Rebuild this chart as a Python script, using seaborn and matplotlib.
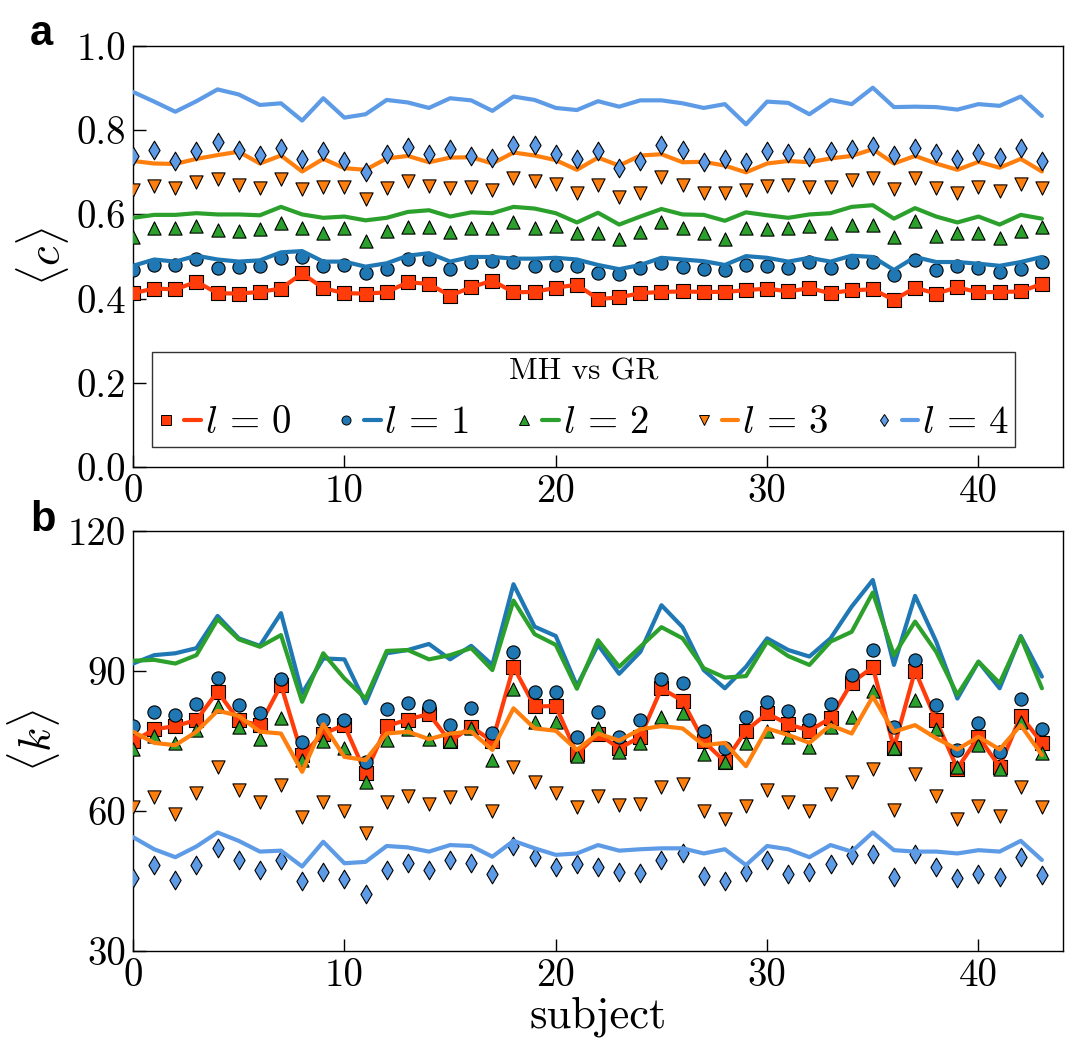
import numpy as np
import pandas as pd
import matplotlib
matplotlib.use("Agg")
import matplotlib.pyplot as plt
import seaborn as sns
from matplotlib.lines import Line2D
from matplotlib.legend_handler import HandlerTuple

# ---------------- data ----------------
subjects = list(range(44))
levels = [0, 1, 2, 3, 4]
level_labels = [r"$l\,=\,0$", r"$l\,=\,1$", r"$l\,=\,2$", r"$l\,=\,3$", r"$l\,=\,4$"]
colors = ["#ff3c0a", "#1f77b4", "#2ca02c", "#ff7f0e", "#5e9be6"]
markers = ["s", "o", "^", "v", "d"]

# panel a: <c>
a_l0 = [0.413,0.424,0.422,0.440,0.413,0.412,0.416,0.424,0.460,0.425,0.413,0.412,0.415,0.439,0.435,
        0.407,0.427,0.443,0.415,0.416,0.426,0.433,0.399,0.403,0.413,0.416,0.417,0.416,0.416,0.420,
        0.424,0.417,0.425,0.413,0.420,0.422,0.397,0.426,0.412,0.427,0.415,0.416,0.417,0.435]
a_l1_mk = [0.468,0.481,0.480,0.493,0.473,0.476,0.477,0.497,0.499,0.477,0.481,0.460,0.470,0.493,0.495,
           0.470,0.486,0.489,0.486,0.478,0.480,0.478,0.462,0.458,0.472,0.484,0.476,0.470,0.467,0.481,
           0.478,0.473,0.488,0.472,0.488,0.486,0.456,0.491,0.468,0.477,0.473,0.464,0.470,0.488]
a_l1_ln = [0.478,0.493,0.488,0.502,0.493,0.488,0.491,0.510,0.513,0.488,0.488,0.476,0.484,0.502,0.508,
           0.488,0.499,0.499,0.495,0.495,0.497,0.493,0.480,0.470,0.480,0.497,0.493,0.489,0.480,0.501,
           0.497,0.488,0.497,0.488,0.502,0.499,0.468,0.499,0.487,0.487,0.483,0.478,0.487,0.499]
a_l2_mk = [0.547,0.567,0.567,0.573,0.563,0.560,0.565,0.579,0.567,0.557,0.567,0.537,0.561,0.570,0.570,
           0.559,0.568,0.567,0.581,0.569,0.573,0.555,0.557,0.542,0.559,0.581,0.568,0.557,0.542,0.568,
           0.565,0.567,0.573,0.557,0.576,0.576,0.547,0.584,0.549,0.555,0.557,0.545,0.560,0.570]
a_l2_ln = [0.592,0.599,0.599,0.603,0.600,0.600,0.598,0.618,0.600,0.592,0.595,0.586,0.592,0.606,0.610,
           0.595,0.605,0.603,0.618,0.614,0.603,0.581,0.604,0.576,0.595,0.613,0.600,0.599,0.585,0.605,
           0.598,0.592,0.600,0.603,0.618,0.622,0.590,0.615,0.595,0.581,0.595,0.576,0.599,0.590]
a_l3_mk = [0.658,0.668,0.664,0.678,0.684,0.670,0.664,0.684,0.660,0.666,0.666,0.636,0.664,0.679,0.668,
           0.664,0.666,0.658,0.686,0.679,0.672,0.650,0.670,0.642,0.652,0.690,0.670,0.652,0.650,0.658,
           0.668,0.670,0.666,0.666,0.682,0.687,0.660,0.686,0.664,0.652,0.666,0.656,0.672,0.664]
a_l3_ln = [0.727,0.721,0.720,0.732,0.741,0.749,0.721,0.740,0.702,0.732,0.710,0.706,0.733,0.739,0.724,
           0.735,0.736,0.721,0.747,0.740,0.729,0.706,0.735,0.716,0.740,0.743,0.724,0.725,0.716,0.700,
           0.721,0.727,0.724,0.733,0.739,0.755,0.721,0.739,0.721,0.706,0.725,0.711,0.732,0.702]
a_l4_mk = [0.739,0.753,0.727,0.751,0.773,0.752,0.741,0.759,0.731,0.751,0.728,0.700,0.743,0.761,0.744,
           0.755,0.740,0.733,0.765,0.765,0.743,0.732,0.751,0.711,0.727,0.765,0.752,0.725,0.732,0.724,
           0.751,0.745,0.737,0.751,0.755,0.763,0.741,0.759,0.747,0.732,0.745,0.737,0.757,0.727]
a_l4_ln = [0.891,0.868,0.844,0.869,0.897,0.885,0.860,0.864,0.823,0.876,0.830,0.838,0.872,0.866,0.853,
           0.876,0.871,0.846,0.880,0.872,0.853,0.848,0.869,0.856,0.871,0.871,0.864,0.853,0.862,0.814,
           0.868,0.865,0.838,0.872,0.862,0.901,0.855,0.856,0.855,0.849,0.862,0.858,0.880,0.834]

# panel b: <k>
b_l0 = [74.9,77.5,78.2,79.5,85.6,79.4,78.4,87.0,72.0,76.6,78.4,68.1,78.2,79.6,80.8,
        74.9,78.1,74.9,90.9,82.4,82.5,72.2,76.6,73.4,75.9,86.3,83.6,74.9,70.6,77.2,
        80.9,78.6,77.2,79.9,87.5,90.8,73.6,90.1,79.4,69.1,75.9,69.5,80.4,74.6]
b_l1_mk = [78.2,81.3,80.6,82.9,88.6,82.7,80.9,88.2,74.8,79.5,79.6,70.4,81.8,83.1,82.5,
           78.4,82.0,76.8,94.1,85.6,85.6,75.8,81.3,75.9,79.4,88.2,87.4,77.2,73.4,80.1,
           83.4,81.5,79.6,82.9,89.1,94.4,77.9,92.4,82.7,73.1,78.8,72.7,83.9,77.5]
b_l1_ln = [91.6,93.4,93.8,94.9,101.8,97.0,95.4,102.4,85.2,92.7,92.5,83.1,93.8,94.5,95.8,
           92.5,95.4,91.3,108.6,99.5,97.5,86.8,95.6,89.4,94.1,104.1,99.4,90.2,86.3,90.9,
           97.0,94.5,93.1,97.0,103.8,109.5,91.3,106.1,96.3,84.1,92.0,86.3,97.5,88.8]
b_l2_mk = [73.2,76.1,74.5,77.4,82.6,78.1,75.4,79.9,70.9,74.9,73.6,66.3,75.2,77.5,75.4,
           74.9,77.7,70.9,86.1,79.1,79.1,71.8,77.7,72.7,74.5,80.1,81.1,72.2,70.6,74.5,
           77.2,75.8,73.8,78.1,80.2,85.8,73.6,83.8,77.5,69.5,74.1,69.1,79.1,72.4]
b_l2_ln = [92.2,92.4,91.6,93.4,101.1,96.8,95.2,97.7,83.4,93.8,88.4,84.1,94.3,94.5,92.5,
           93.4,94.9,90.2,105.1,97.9,95.6,86.2,96.6,90.9,95.2,99.4,97.0,90.6,88.6,88.9,
           96.3,93.2,91.3,96.3,98.4,106.8,93.4,100.6,94.1,84.9,92.0,87.4,97.3,86.3]
b_l3_mk = [60.8,63.1,59.4,63.9,69.4,64.4,62.0,65.6,58.8,62.0,59.9,55.2,62.0,63.3,61.6,
           62.9,63.8,59.9,69.5,66.3,63.8,60.9,63.2,61.3,61.5,65.1,65.8,60.1,58.2,61.1,
           64.4,62.0,60.1,63.6,66.3,69.1,60.2,67.9,63.2,58.2,61.1,59.0,65.1,60.8]
b_l3_ln = [77.0,74.6,74.1,77.0,81.5,80.4,77.0,76.6,68.4,78.6,71.6,70.9,76.6,77.0,75.4,
           76.6,77.0,73.1,82.0,77.7,77.2,73.1,76.6,75.1,77.5,78.2,77.7,74.1,74.6,69.6,
           77.7,76.3,74.6,78.4,76.6,84.5,77.0,78.4,75.6,73.2,75.9,73.2,78.4,72.0]
b_l4_mk = [45.6,48.4,45.2,48.4,52.0,49.5,47.4,49.6,45.1,47.0,45.4,42.2,47.4,48.8,47.4,
           49.5,48.9,46.6,52.4,50.2,48.1,48.6,47.9,47.0,46.8,49.5,51.1,46.1,44.9,47.0,
           49.4,46.5,47.0,48.6,50.6,50.8,45.8,50.8,47.9,45.6,46.6,45.8,50.1,46.3]
b_l4_ln = [54.4,51.8,50.1,52.4,55.4,53.6,51.3,51.5,48.1,53.4,48.8,49.1,52.5,52.2,51.3,
           52.7,52.5,50.2,53.6,52.0,50.6,50.9,52.7,51.5,51.8,52.0,52.0,50.9,51.8,48.4,
           52.5,51.8,50.1,52.7,51.3,55.4,51.6,51.3,51.3,50.9,51.6,51.3,53.6,49.5]

panel_a_markers = [a_l0, a_l1_mk, a_l2_mk, a_l3_mk, a_l4_mk]
panel_a_lines = [a_l0, a_l1_ln, a_l2_ln, a_l3_ln, a_l4_ln]
panel_b_markers = [b_l0, b_l1_mk, b_l2_mk, b_l3_mk, b_l4_mk]
panel_b_lines = [b_l0, b_l1_ln, b_l2_ln, b_l3_ln, b_l4_ln]

x_ticks = [0, 10, 20, 30, 40]
a_yticks = [0.0, 0.2, 0.4, 0.6, 0.8, 1.0]
b_yticks = [30, 60, 90, 120]

# ---------------- style ----------------
sns.set_style("ticks")
plt.rcParams["font.family"] = ["serif"]
plt.rcParams["font.serif"] = ["cmr10", "DejaVu Serif"]
plt.rcParams["mathtext.fontset"] = "cm"
plt.rcParams["axes.formatter.use_mathtext"] = True
plt.rcParams["axes.unicode_minus"] = False
for key in ["text.color", "axes.labelcolor", "xtick.color", "ytick.color", "axes.edgecolor"]:
    plt.rcParams[key] = "black"

FS_TICK = 28
FS_LABEL = 32
MS = 9.5
LW = 3.0

fig = plt.figure(figsize=(10.79, 10.61), dpi=100)
ax_a = fig.add_axes([0.1233, 0.5598, 0.8619, 0.3968])
ax_b = fig.add_axes([0.1233, 0.1037, 0.8619, 0.3958])


def draw(ax, mk_data, ln_data):
    for k in range(len(levels)):
        sns.scatterplot(x=subjects, y=mk_data[k], ax=ax, marker=markers[k],
                        s=MS ** 2, color=colors[k], edgecolor="black",
                        linewidth=0.8, zorder=3 + 2 * k, legend=False)
        sns.lineplot(x=subjects, y=ln_data[k], ax=ax, color=colors[k], lw=LW,
                     zorder=4 + 2 * k, estimator=None, sort=False, legend=False)


draw(ax_a, panel_a_markers, panel_a_lines)
draw(ax_b, panel_b_markers, panel_b_lines)

for ax in (ax_a, ax_b):
    ax.set_xlim(0, 44)
    ax.set_xticks(x_ticks)
    ax.set_xticklabels([str(t) for t in x_ticks])
    ax.tick_params(direction="in", length=9, width=1.0, labelsize=FS_TICK, pad=5)
    for sp in ax.spines.values():
        sp.set_linewidth(1.0)
        sp.set_color("black")
    ax.set_xlabel("")

ax_a.set_ylim(0, 1.0)
ax_a.set_yticks(a_yticks)
ax_a.set_yticklabels([f"{t:.1f}" for t in a_yticks])
ax_a.set_ylabel(r"$\langle c\rangle$", fontsize=FS_LABEL, labelpad=4)

ax_b.set_ylim(30, 120)
ax_b.set_yticks(b_yticks)
ax_b.set_yticklabels([str(t) for t in b_yticks])
ax_b.set_ylabel(r"$\langle k\rangle$", fontsize=FS_LABEL, labelpad=4)
ax_b.set_xlabel("subject", fontsize=FS_LABEL, labelpad=2)

# legend
handles = []
for k in range(len(levels)):
    hm = Line2D([], [], ls="none", marker=markers[k], markersize=6.5,
                markerfacecolor=colors[k], markeredgecolor="black", markeredgewidth=0.7)
    hl = Line2D([], [], color=colors[k], lw=LW)
    handles.append((hm, hl))
leg = ax_a.legend(handles, level_labels, ncol=5, loc="lower left",
                  bbox_to_anchor=(0.0204, 0.0475, 0.928, 0.223), mode="expand",
                  borderaxespad=0, fontsize=FS_TICK, title="MH vs GR",
                  title_fontsize=22.5, frameon=True, fancybox=False,
                  handler_map={tuple: HandlerTuple(ndivide=None, pad=0.25)},
                  handlelength=1.1, handletextpad=0.1, borderpad=0.15,
                  columnspacing=0.4)
leg.get_frame().set_edgecolor("#333333")
leg.get_frame().set_linewidth(1.0)
leg.get_frame().set_alpha(1.0)
leg.set_zorder(20)

# panel letters
fig.text(0.028, 0.968, "a", fontsize=30, fontweight="bold", color="black",
         family=["Liberation Sans", "DejaVu Sans"], va="center", ha="left")
fig.text(0.028, 0.510, "b", fontsize=30, fontweight="bold", color="black",
         family=["Liberation Sans", "DejaVu Sans"], va="center", ha="left")

fig.savefig("out.png", dpi=100)
